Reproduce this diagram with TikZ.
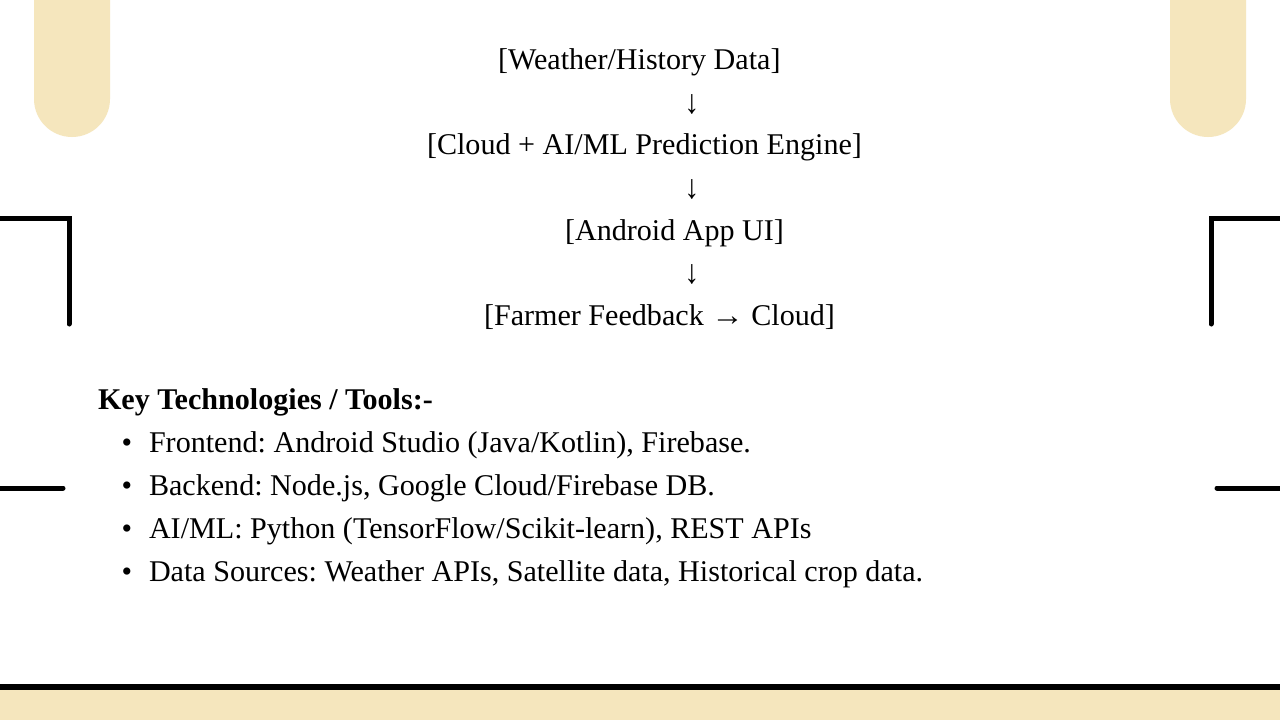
\documentclass[tikz,border=0pt]{standalone}
\usepackage{graphicx}
\usepackage{fontspec}
\setmainfont{Liberation Serif}
\definecolor{cream}{HTML}{F5E6BD}
\frenchspacing
\newcommand{\dnarr}{\scalebox{1}[1.12]{↓}}
\newcommand{\rtarr}{\scalebox{1.08}[1]{→}}
\begin{document}
\begin{tikzpicture}[x=1pt,y=-1pt,
  txt/.style={inner sep=0pt, outer sep=0pt, font=\fontsize{30.1}{36}\selectfont},
  deco/.style={line width=5pt, line cap=round, line join=miter, black},
  pill/.style={fill=cream, rounded corners=38pt}]
\useasboundingbox (0,0) rectangle (1280,720);
\fill[white] (0,0) rectangle (1280,720);
% decorations
\path[pill] (34,-60) rectangle (110,137);
\path[pill] (1170,-60) rectangle (1246,137);
\draw[deco] (-6,218) -- (69,218) -- (69,324);
\draw[deco] (1286,218) -- (1211,218) -- (1211,324);
\draw[deco] (-6,488) -- (63,488);
\draw[deco] (1217,488) -- (1286,488);
\fill[black] (0,684) rectangle (1280,690);
\fill[cream] (0,690) rectangle (1280,720);
% flow
\node[txt, anchor=base west] (n1) at (498,69) {[Weather/History Data]};
\node[txt, anchor=base] (a1) at (692,113) {\dnarr};
\node[txt, anchor=base west] (n2) at (427,154) {[Cloud + AI/ML Prediction Engine]};
\node[txt, anchor=base] (a2) at (692,198) {\dnarr};
\node[txt, anchor=base west] (n3) at (565,240) {[Android App UI]};
\node[txt, anchor=base] (a3) at (692,283) {\dnarr};
\node[txt, anchor=base west] (n4) at (484,325) {[Farmer Feedback \rtarr{} Cloud]};
% list
\node[txt, anchor=base west] (h) at (98,409) {\textbf{Key Technologies / Tools:-}};
\node[txt, anchor=base] (b1) at (127,452) {•};
\node[txt, anchor=base west] (t1) at (149,452) {Frontend: Android Studio (Java/Kotlin), Firebase.};
\node[txt, anchor=base] (b2) at (127,495) {•};
\node[txt, anchor=base west] (t2) at (149,495) {Backend: Node.js, Google Cloud/Firebase DB.};
\node[txt, anchor=base] (b3) at (127,538) {•};
\node[txt, anchor=base west] (t3) at (149,538) {AI/ML: Python (TensorFlow/Scikit-learn), REST APIs};
\node[txt, anchor=base] (b4) at (127,581) {•};
\node[txt, anchor=base west] (t4) at (149,581) {Data Sources: Weather APIs, Satellite data, Historical crop data.};
\end{tikzpicture}
\end{document}
